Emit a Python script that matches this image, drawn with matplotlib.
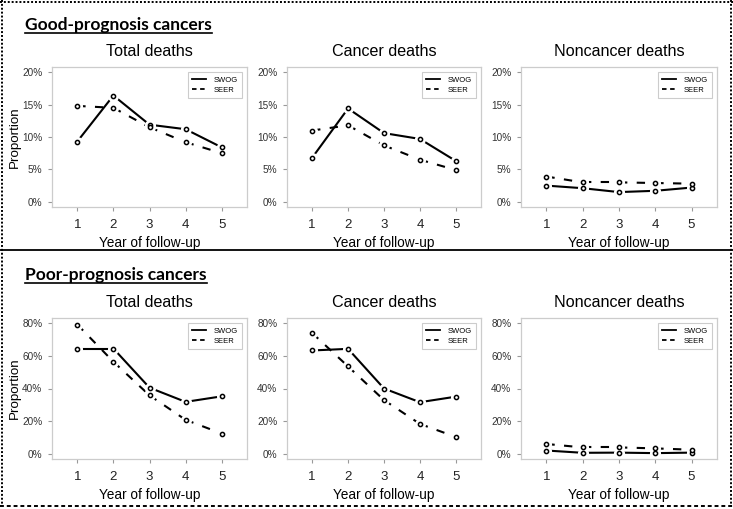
import matplotlib
matplotlib.use('Agg')
import matplotlib.pyplot as plt
from matplotlib.lines import Line2D
from matplotlib.ticker import FuncFormatter

plt.rcParams['font.family'] = ['Liberation Sans', 'DejaVu Sans']

# data (percent)
years = [1, 2, 3, 4, 5]

good_total_swog = [9.3, 16.4, 11.9, 11.2, 8.4]
good_total_seer = [14.8, 14.5, 11.5, 9.2, 7.5]
good_cancer_swog = [6.8, 14.4, 10.6, 9.7, 6.3]
good_cancer_seer = [11.0, 11.8, 8.7, 6.5, 4.9]
good_noncancer_swog = [2.5, 2.1, 1.5, 1.7, 2.2]
good_noncancer_seer = [3.9, 3.0, 3.0, 2.9, 2.8]

poor_total_swog = [64.5, 64.5, 40.5, 31.8, 35.2]
poor_total_seer = [79.2, 56.4, 35.8, 20.8, 12.4]
poor_cancer_swog = [63.3, 64.3, 40.0, 31.6, 35.0]
poor_cancer_seer = [74.0, 53.5, 32.9, 18.3, 10.3]
poor_noncancer_swog = [2.0, 0.6, 0.7, 0.4, 0.7]
poor_noncancer_seer = [6.0, 3.9, 3.9, 3.3, 2.5]

titles = ['Total deaths', 'Cancer deaths', 'Noncancer deaths']
sections = ['Good-prognosis cancers', 'Poor-prognosis cancers']

W, H = 733, 509
fig = plt.figure(figsize=(W / 100, H / 100), dpi=100)


def px_axes(l, t, r, b):
    return fig.add_axes([l / W, 1 - b / H, (r - l) / W, (b - t) / H])


def draw_panel(ax, title, swog, seer, ymax, step, ylabel):
    # R type="b": separate segments with gaps around the points
    for vals, ls in ((swog, '-'), (seer, (0, (4, 4.5)))):
        for i in range(len(years) - 1):
            ax.plot(years[i:i + 2], vals[i:i + 2], color='black', lw=1.5,
                    linestyle=ls, solid_capstyle='butt', dash_capstyle='butt')
    for vals in (swog, seer):
        ax.plot(years, vals, 'o', ms=8, color='white', mew=0)
    for vals in (swog, seer):
        ax.plot(years, vals, 'o', ms=3, mfc='white', mec='black', mew=1.1)

    pad = ymax * 0.04
    ax.set_xlim(0.3, 5.7)
    ax.set_ylim(-pad, ymax + pad)
    ax.set_xticks(years)
    ax.set_yticks(range(0, ymax + 1, step))
    ax.yaxis.set_major_formatter(FuncFormatter(lambda v, p: f'{v:.0f}%'))
    for s in ax.spines.values():
        s.set_color('#cccccc')
        s.set_linewidth(0.9)
    ax.tick_params(axis='y', labelsize=7.2, length=3, pad=4, color='#999999',
                   labelcolor='#333333', width=0.8)
    ax.tick_params(axis='x', labelsize=9.5, length=3, pad=6, color='#999999',
                   labelcolor='#222222', width=0.8)
    ax.set_title(title, fontsize=11.6, pad=8)
    ax.set_xlabel('Year of follow-up', fontsize=9.8, labelpad=3)
    if ylabel:
        ax.set_ylabel('Proportion', fontsize=9.6, labelpad=1)

    handles = [Line2D([], [], color='black', lw=1.3),
               Line2D([], [], color='black', lw=1.3, linestyle=(0, (2.5, 2)))]
    leg = ax.legend(handles, ['SWOG', 'SEER'], loc='upper right', fontsize=5.5,
                    handlelength=1.8, handletextpad=1.0, labelspacing=0.35,
                    borderpad=0.6, fancybox=False, framealpha=1,
                    borderaxespad=0.6)
    leg.get_frame().set_edgecolor('#cccccc')
    leg.get_frame().set_linewidth(0.8)


cols = [(52, 247), (287, 481), (521, 717)]
rows = [(67, 207), (318, 459)]

good = [(good_total_swog, good_total_seer),
        (good_cancer_swog, good_cancer_seer),
        (good_noncancer_swog, good_noncancer_seer)]
poor = [(poor_total_swog, poor_total_seer),
        (poor_cancer_swog, poor_cancer_seer),
        (poor_noncancer_swog, poor_noncancer_seer)]

for r, (group, ymax, step) in enumerate([(good, 20, 5), (poor, 80, 20)]):
    t, b = rows[r]
    for c, (swog, seer) in enumerate(group):
        l, rr = cols[c]
        ax = px_axes(l, t, rr, b)
        draw_panel(ax, titles[c], swog, seer, ymax, step, c == 0)

# section headers, bold and underlined
header_y = [30, 280]
texts = []
for name, y in zip(sections, header_y):
    texts.append(fig.text(25 / W, 1 - y / H, name, fontsize=12.5,
                          fontweight='bold', family=['Lato', 'DejaVu Sans'],
                          va='baseline', ha='left'))
fig.canvas.draw()
for txt, y in zip(texts, header_y):
    bb = txt.get_window_extent()
    yy = 1 - (y + 2.5) / H
    fig.add_artist(Line2D([bb.x0 / W, bb.x1 / W], [yy, yy], color='black',
                          lw=1.2, transform=fig.transFigure))

# outer border and separator
def fig_line(xs, ys, **kw):
    fig.add_artist(Line2D([x / W for x in xs], [1 - y / H for y in ys],
                          transform=fig.transFigure, color='black', **kw))

dots = dict(lw=1.4, linestyle=(0, (1, 1)))
fig_line([2, 2], [0, 507], **dots)
fig_line([731, 731], [0, 507], **dots)
fig_line([0, W], [1.5, 1.5], **dots)
fig_line([0, W], [506, 506], lw=1.4, linestyle=(0, (2, 1.5)))
fig_line([0, W], [250, 250], lw=1.3)

fig.savefig('out.png', dpi=100)
